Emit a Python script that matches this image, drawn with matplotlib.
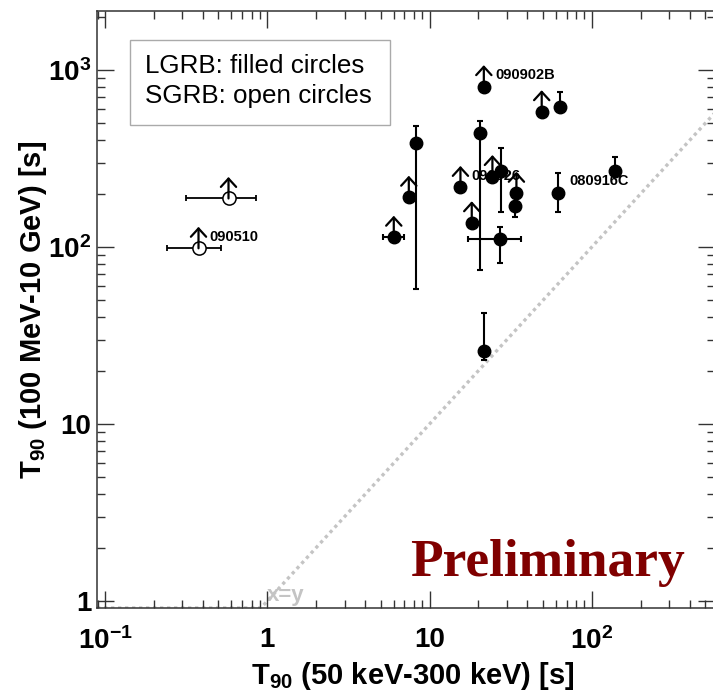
import matplotlib
matplotlib.use('Agg')
import matplotlib.pyplot as plt
from matplotlib.ticker import FixedLocator, FixedFormatter, LogLocator, NullFormatter
from matplotlib.transforms import ScaledTranslation
from matplotlib.patches import Rectangle

plt.rcParams['axes.unicode_minus'] = False

# ---------------- data ----------------
# Long GRBs (filled circles)
lgrb_gbm = [62.3, 21.6, 49.1, 64.1, 8.2, 20.6, 15.5, 24.4, 27.7, 7.45, 6.02, 18.2, 34.3, 33.5, 27.1, 139.0, 21.6]
lgrb_gbm_lo = [62.3, 21.6, 49.1, 64.1, 8.2, 20.6, 15.5, 24.4, 27.7, 7.45, 5.15, 18.2, 34.3, 33.5, 17.3, 139.0, 21.6]
lgrb_gbm_hi = [62.3, 21.6, 49.1, 64.1, 8.2, 20.6, 15.5, 24.4, 27.7, 7.45, 6.94, 18.2, 34.3, 33.5, 36.5, 139.0, 21.6]
lgrb_lat = [203, 805, 581, 621, 388, 443, 217, 250, 269, 191, 113.5, 137, 201, 171, 111, 269, 26]
lgrb_lat_lo = [157, 805, 581, 590, 58, 74, 217, 250, 158, 191, 113.5, 137, 201, 148, 81.5, 255, 23]
lgrb_lat_hi = [261, 805, 581, 754, 484, 515, 217, 250, 362, 191, 113.5, 137, 201, 180, 130, 321, 42.2]
lgrb_limit = [0, 1, 1, 0, 0, 0, 1, 1, 0, 1, 1, 1, 1, 0, 0, 0, 0]
lgrb_names = ['080916C', '090902B', '', '', '', '', '090926', '', '', '', '', '', '', '', '', '', '']

# Short GRBs (open circles)
sgrb_gbm = [0.577, 0.377]
sgrb_gbm_lo = [0.316, 0.240]
sgrb_gbm_hi = [0.851, 0.52]
sgrb_lat = [188, 98.3]
sgrb_limit = [1, 1]
sgrb_names = ['', '090510']

x_ticks = [0.1, 1, 10, 100]
x_ticklabels = [r'$\mathdefault{10^{-1}}$', '1', '10', r'$\mathdefault{10^{2}}$']
y_ticks = [1, 10, 100, 1000]
y_ticklabels = ['1', '10', r'$\mathdefault{10^{2}}$', r'$\mathdefault{10^{3}}$']

# ---------------- figure ----------------
W, H = 713, 696
fig = plt.figure(figsize=(W / 100, H / 100), dpi=100)
ax = fig.add_axes([97 / W, 88 / H, 618 / W, 597 / H])
ax.set_xscale('log')
ax.set_yscale('log')
ax.set_xlim(0.0893, 574)
ax.set_ylim(0.913, 2154)

SANS = 'Liberation Sans'

# x=y reference line (clipped at the lower frame)
xl = ax.get_xlim()
yl = ax.get_ylim()
ax.plot([xl[0], yl[0], xl[1]], [yl[0], yl[0], xl[1]], color='#c4c4c4', lw=2.4,
        ls=(0, (1, 1.1)), zorder=1)
ax.text(1.0, 1.0, 'x=y', color='#c4c4c4', fontsize=16, fontweight='bold',
        family=SANS, ha='left', va='baseline', zorder=1)

def yerr_of(v, lo, hi):
    return [[a - b for a, b in zip(v, lo)], [c - a for a, c in zip(v, hi)]]

# LGRB
ax.errorbar(lgrb_gbm, lgrb_lat,
            xerr=yerr_of(lgrb_gbm, lgrb_gbm_lo, lgrb_gbm_hi),
            yerr=yerr_of(lgrb_lat, lgrb_lat_lo, lgrb_lat_hi),
            fmt='none', ecolor='black', elinewidth=1.5, capsize=2.5, capthick=1.5, zorder=3)
ax.plot(lgrb_gbm, lgrb_lat, 'o', color='black', ms=9, zorder=4)

# SGRB
ax.errorbar(sgrb_gbm, sgrb_lat,
            xerr=yerr_of(sgrb_gbm, sgrb_gbm_lo, sgrb_gbm_hi),
            fmt='none', ecolor='black', elinewidth=1.3, capsize=2.5, capthick=1.3, zorder=3)
ax.plot(sgrb_gbm, sgrb_lat, 'o', mfc='white', mec='black', mew=1.1, ms=9.5, zorder=4)

# lower-limit arrows
up = ax.transData + ScaledTranslation(0, 15.5 / 72, fig.dpi_scale_trans)
for xs, ys, lims in ((lgrb_gbm, lgrb_lat, lgrb_limit), (sgrb_gbm, sgrb_lat, sgrb_limit)):
    for x, y, lim in zip(xs, ys, lims):
        if lim:
            ax.annotate('', xy=(x, y), xycoords=up, xytext=(x, y), textcoords='data',
                        arrowprops=dict(arrowstyle='->, head_length=0.6, head_width=0.55',
                                        lw=1.6, color='black', shrinkA=0, shrinkB=0,
                                        mutation_scale=10), zorder=5)

# names
for xs, ys, names in ((lgrb_gbm, lgrb_lat, lgrb_names), (sgrb_gbm, sgrb_lat, sgrb_names)):
    for x, y, n in zip(xs, ys, names):
        if n:
            ax.annotate(n, xy=(x, y), xytext=(8, 8.5), textcoords='offset points',
                        ha='left', va='center', fontsize=10.5, fontweight='bold',
                        family=SANS, zorder=6)

# axes styling
for s in ax.spines.values():
    s.set_color('#333333')
    s.set_linewidth(1.1)
ax.xaxis.set_major_locator(FixedLocator(x_ticks))
ax.xaxis.set_major_formatter(FixedFormatter(x_ticklabels))
ax.yaxis.set_major_locator(FixedLocator(y_ticks))
ax.yaxis.set_major_formatter(FixedFormatter(y_ticklabels))
ax.xaxis.set_minor_locator(LogLocator(base=10, subs=range(2, 10), numticks=20))
ax.yaxis.set_minor_locator(LogLocator(base=10, subs=range(2, 10), numticks=20))
ax.xaxis.set_minor_formatter(NullFormatter())
ax.yaxis.set_minor_formatter(NullFormatter())
ax.tick_params(which='both', direction='in', top=True, right=True, color='#333333', width=1.0)
ax.tick_params(which='major', length=12.5)
ax.tick_params(which='minor', length=6)
ax.tick_params(axis='x', which='major', pad=14)
ax.tick_params(axis='y', which='major', pad=4)
for lab in ax.get_xticklabels() + ax.get_yticklabels():
    lab.set_family(SANS)
    lab.set_fontweight('bold')
    lab.set_fontsize(20)

# axis titles
fig.text(413 / W, 1 - 676 / H, r'$\mathdefault{T_{90}}$ (50 keV-300 keV) [s]',
         ha='center', va='center', fontsize=21, fontweight='bold', family=SANS)
fig.text(33 / W, 1 - 310 / H, r'$\mathdefault{T_{90}}$ (100 MeV-10 GeV) [s]',
         ha='center', va='center', rotation=90, fontsize=21, fontweight='bold', family=SANS)

# legend box
fig.patches.append(Rectangle((130 / W, 1 - 125 / H), 260 / W, 85 / H,
                             transform=fig.transFigure, fill=False,
                             edgecolor='#aaaaaa', lw=1.0, zorder=10))
fig.text(145 / W, 1 - 73 / H, 'LGRB: filled circles', ha='left', va='baseline',
         fontsize=18.7, family=SANS)
fig.text(145 / W, 1 - 103 / H, 'SGRB: open circles', ha='left', va='baseline',
         fontsize=18.7, family=SANS)

# Preliminary
fig.text(410 / W, 1 - 576 / H, 'Preliminary', ha='left', va='baseline',
         fontsize=38.5, fontweight='bold', family='Liberation Serif', color='#800000')

fig.savefig('out.png', dpi=100)
